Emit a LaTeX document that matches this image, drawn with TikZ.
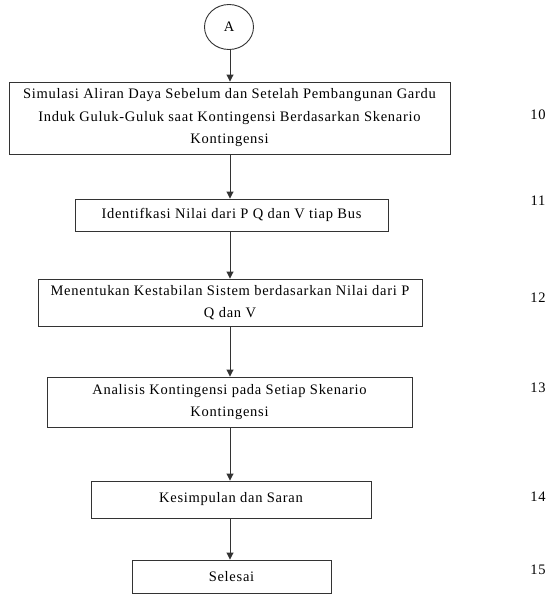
\documentclass[tikz,border=0pt]{standalone}
\usepackage{fontspec}
\setmainfont{Liberation Serif}[LetterSpace=5]
\usetikzlibrary{shapes.geometric,arrows.meta}
\begin{document}
\begin{tikzpicture}[x=1pt,y=1pt,
  every node/.style={font=\fontsize{14.5}{22.5}\selectfont},
  box/.style={draw=black!80,line width=0.9pt,rectangle,align=center,inner sep=0pt},
  arr/.style={draw=black!80,line width=0.9pt,-{Triangle[length=7pt,width=7pt]}},
  num/.style={inner sep=0pt}]
\useasboundingbox (0,0) rectangle (550,-594);
\coordinate (ax) at (230,0);
\node[draw=black!80,line width=0.9pt,ellipse,minimum width=49pt,minimum height=45pt,inner sep=0pt] (c) at (229,-27) {A};
\node[box,minimum width=441pt,minimum height=72pt] (b1) at (229.5,-118) {Simulasi Aliran Daya Sebelum dan Setelah Pembangunan Gardu\\Induk Guluk-Guluk saat Kontingensi Berdasarkan Skenario\\Kontingensi};
\node[box,minimum width=313pt,minimum height=32pt] (b2) at (231.5,-215) {Identifkasi Nilai dari P Q dan V tiap Bus};
\node[box,minimum width=384pt,minimum height=47pt] (b3) at (230,-302.5) {Menentukan Kestabilan Sistem berdasarkan Nilai dari P\\Q dan V};
\node[box,minimum width=365pt,minimum height=50pt] (b4) at (229.5,-402) {Analisis Kontingensi pada Setiap Skenario\\Kontingensi};
\node[box,minimum width=280pt,minimum height=37pt] (b5) at (231,-499.5) {Kesimpulan dan Saran};
\node[box,minimum width=199pt,minimum height=33pt] (b6) at (231.5,-576.5) {Selesai};
\node[num] (n10) at (538,-115) {10};
\node[num] (n11) at (538,-201) {11};
\node[num] (n12) at (538,-298) {12};
\node[num] (n13) at (538,-388) {13};
\node[num] (n14) at (538,-497) {14};
\node[num] (n15) at (538,-570) {15};
\draw[arr] (c.south -| ax) -- (b1.north -| ax);
\draw[arr] (b1.south -| ax) -- (b2.north -| ax);
\draw[arr] (b2.south -| ax) -- (b3.north -| ax);
\draw[arr] (b3.south -| ax) -- (b4.north -| ax);
\draw[arr] (b4.south -| ax) -- (b5.north -| ax);
\draw[arr] (b5.south -| ax) -- (b6.north -| ax);
\end{tikzpicture}
\end{document}
